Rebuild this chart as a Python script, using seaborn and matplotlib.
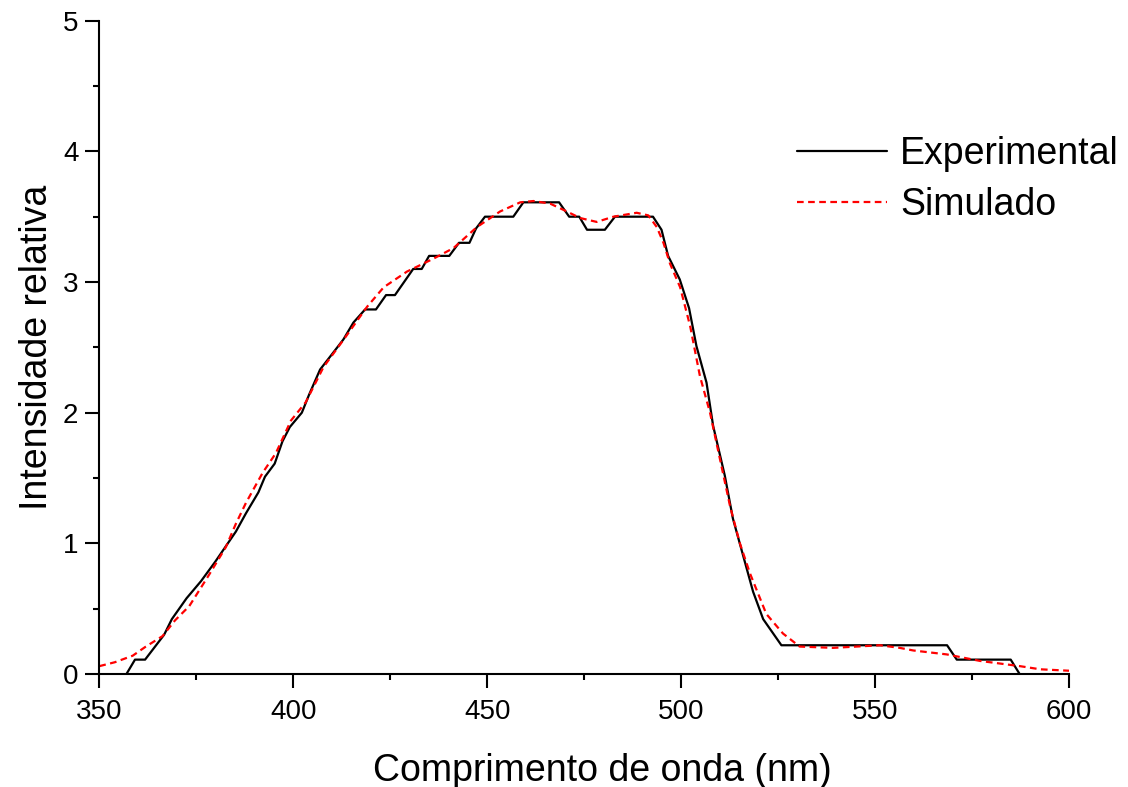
import matplotlib
matplotlib.use("Agg")
import matplotlib.pyplot as plt
import seaborn as sns
import pandas as pd
from matplotlib.ticker import MultipleLocator

# Data
exp_x = [357.0, 359.2, 361.8, 366.7, 368.7, 372.5, 376.2, 379.9, 385.2, 387.8,
         391.0, 392.7, 395.2, 397.2, 399.1, 402.2, 404.1, 406.9, 410.3, 412.9,
         415.5, 418.5, 421.3, 423.9, 426.2, 430.9, 433.1, 435.0, 440.2, 442.7,
         445.4, 447.1, 449.4, 456.7, 459.3, 468.5, 471.1, 473.7, 475.7, 480.3,
         482.9, 492.7, 494.9, 496.6, 499.6, 502.0, 503.9, 506.5, 508.2, 511.2,
         513.3, 515.9, 518.5, 521.1, 525.8, 568.5, 571.0, 584.9, 587.2]
exp_y = [0.0, 0.11, 0.11, 0.30, 0.42, 0.58, 0.71, 0.86, 1.09, 1.23,
         1.39, 1.51, 1.61, 1.78, 1.89, 2.00, 2.14, 2.33, 2.46, 2.56,
         2.69, 2.79, 2.79, 2.90, 2.90, 3.10, 3.10, 3.20, 3.20, 3.30,
         3.30, 3.41, 3.50, 3.50, 3.61, 3.61, 3.50, 3.50, 3.40, 3.40,
         3.50, 3.50, 3.40, 3.20, 3.02, 2.80, 2.51, 2.23, 1.90, 1.52,
         1.19, 0.91, 0.63, 0.42, 0.22, 0.22, 0.11, 0.11, 0.0]

sim_x = [350.0, 354.0, 358.6, 362.0, 366.3, 369.5, 373.2, 378.3, 382.6, 385.2,
         387.8, 392.1, 395.5, 399.4, 403.2, 407.8, 413.0, 419.0, 423.3, 429.3,
         436.2, 441.3, 447.3, 453.3, 458.5, 461.9, 466.2, 470.5, 473.9, 478.2,
         482.5, 488.5, 491.5, 493.7, 495.4, 497.1, 499.7, 502.3, 504.8, 507.4,
         510.0, 512.6, 515.1, 517.7, 521.9, 526.2, 530.5, 539.1, 551.2, 556.3,
         559.8, 568.4, 577.0, 587.3, 592.5, 600.0]
sim_y = [0.06, 0.09, 0.14, 0.21, 0.29, 0.41, 0.52, 0.76, 0.97, 1.15,
         1.31, 1.54, 1.69, 1.94, 2.08, 2.35, 2.56, 2.81, 2.96, 3.08,
         3.18, 3.26, 3.42, 3.54, 3.61, 3.62, 3.60, 3.54, 3.49, 3.46,
         3.50, 3.53, 3.51, 3.42, 3.30, 3.14, 2.96, 2.66, 2.28, 2.00,
         1.64, 1.28, 1.00, 0.77, 0.46, 0.31, 0.21, 0.20, 0.22, 0.20,
         0.18, 0.15, 0.10, 0.06, 0.036, 0.025]

x_label = "Comprimento de onda (nm)"
y_label = "Intensidade relativa"
labels = ["Experimental", "Simulado"]

sns.set_theme(style="ticks")
plt.rcParams['font.family'] = ['Liberation Sans', 'DejaVu Sans']
plt.rcParams['text.color'] = 'black'
plt.rcParams['axes.labelcolor'] = 'black'

fig = plt.figure(figsize=(11.28, 7.87), dpi=100)
ax = fig.add_axes([99.3 / 1128, 113 / 787, 970 / 1128, 653.3 / 787])

df_exp = pd.DataFrame({"x": exp_x, "y": exp_y})
df_sim = pd.DataFrame({"x": sim_x, "y": sim_y})

sns.lineplot(data=df_exp, x="x", y="y", ax=ax, color="black", lw=1.6,
             estimator=None, sort=False, label=labels[0])
sns.lineplot(data=df_sim, x="x", y="y", ax=ax, color="#ff0000", lw=1.6,
             estimator=None, sort=False, label=labels[1])
ax.lines[1].set_dashes([3, 2])

ax.set_xlim(350, 600)
ax.set_ylim(0, 5)
ax.xaxis.set_major_locator(MultipleLocator(50))
ax.xaxis.set_minor_locator(MultipleLocator(25))
ax.yaxis.set_major_locator(MultipleLocator(1))
ax.yaxis.set_minor_locator(MultipleLocator(0.5))

for s in ["top", "right"]:
    ax.spines[s].set_visible(False)
for s in ["left", "bottom"]:
    ax.spines[s].set_linewidth(1.5)
    ax.spines[s].set_color("black")

ax.tick_params(which="major", direction="out", length=10, width=1.5,
               labelsize=20, colors="black", labelcolor="black", pad=5)
ax.tick_params(which="minor", direction="out", length=4.5, width=1.5, colors="black")
ax.tick_params(axis="x", which="major", pad=8)

ax.set_xlabel(x_label, fontsize=27, color="black", labelpad=20)
ax.set_ylabel(y_label, fontsize=27, color="black", labelpad=6)
ax.xaxis.label.set_x((602 - 99.3) / 970)

leg = ax.legend(loc="upper left", bbox_to_anchor=(797 / 1128, 1 - 136 / 787),
                bbox_transform=fig.transFigure, frameon=False, fontsize=27,
                handlelength=2.4, handletextpad=0.35, borderpad=0,
                borderaxespad=0, labelspacing=0.4)
for t in leg.get_texts():
    t.set_color("black")

fig.savefig("out.png", dpi=100)
